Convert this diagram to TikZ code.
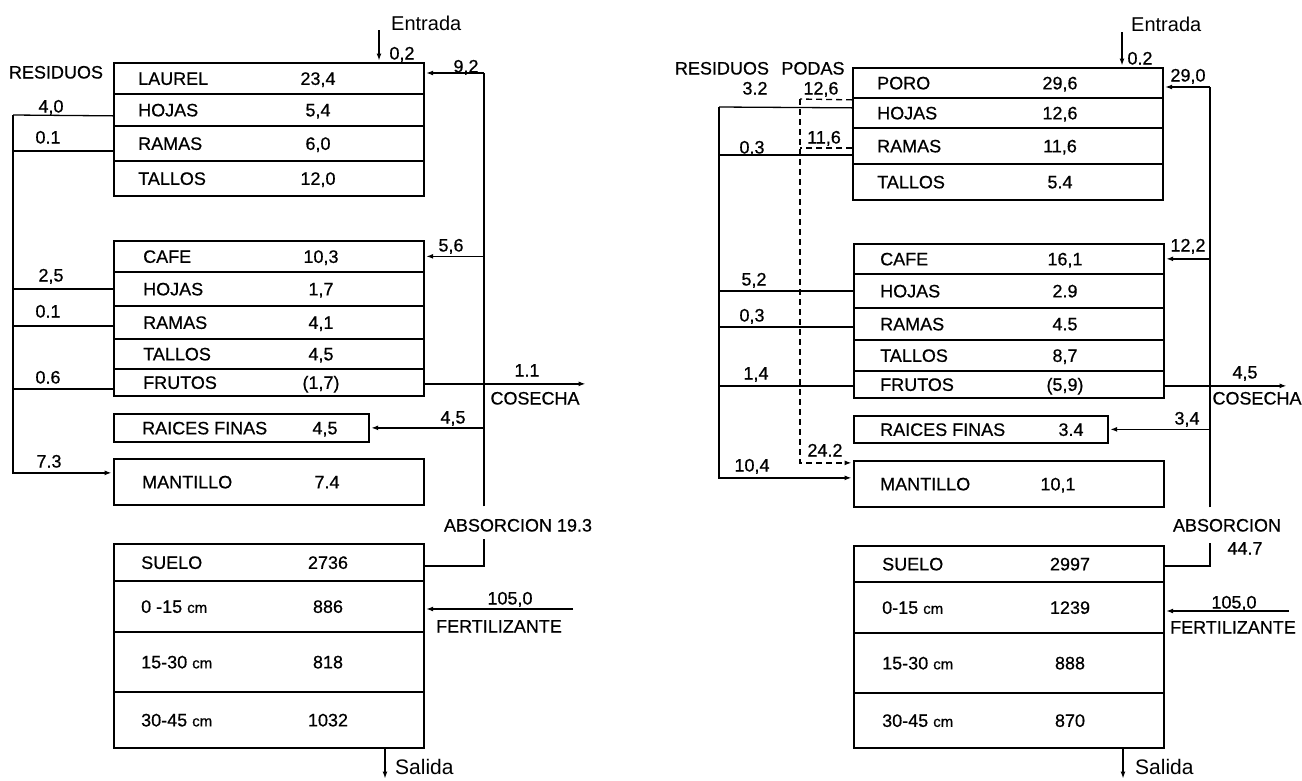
\documentclass[tikz,border=0pt]{standalone}
\usepackage{fontspec}
\setmainfont{Liberation Sans}
\newfontfamily\rotulo[FakeBold=0.6]{Liberation Sans}
\usetikzlibrary{arrows.meta}

\newcommand{\cmchico}{{\fontsize{15}{15}\selectfont cm}}

\tikzset{
  fila/.style={draw, line width=1.7pt, anchor=north west, inner sep=0pt, minimum width=310pt},
  txt/.style={inner sep=0pt, font=\rotulo\fontsize{18}{18}\selectfont, text height=13pt, text depth=0pt},
  linea/.style={line width=1.3pt},
  flecha/.style={line width=1.3pt, -{Latex[length=7pt,width=5pt]}, shorten >=1.5pt},
  podas/.style={line width=1.3pt, dash pattern=on 6pt off 4pt},
  grande/.style={inner sep=0pt, anchor=west, text depth=0pt}
}

\begin{document}
\begin{tikzpicture}[x=1pt, y=-1pt]
    \useasboundingbox (0,0) rectangle (1302,780);

    % ---------------- left panel (laurel) ----------------
    \foreach \nom/\val/\ya/\yb [count=\i] in {LAUREL/{23,4}/62/93, HOJAS/{5,4}/93/125, RAMAS/{6,0}/125/160, TALLOS/{12,0}/160/195} {
        \node[fila, minimum height=(\yb-\ya)*1pt] (lau\i) at (113,\ya) {};
        \node[txt, anchor=west] (nlau\i) at ([xshift=25pt]lau\i.west) {\nom};
        \node[txt] (vlau\i) at ([xshift=205pt]lau\i.west) {\val};
    }
    \foreach \nom/\val/\ya/\yb [count=\i] in {CAFE/{10,3}/240/271, HOJAS/{1,7}/271/305, RAMAS/{4,1}/305/338, TALLOS/{4,5}/338/368, FRUTOS/{(1,7)}/368/395} {
        \node[fila, minimum height=(\yb-\ya)*1pt] (caf\i) at (113,\ya) {};
        \node[txt, anchor=west] (ncaf\i) at ([xshift=30pt]caf\i.west) {\nom};
        \node[txt] (vcaf\i) at ([xshift=208pt]caf\i.west) {\val};
    }
    \node[fila, minimum width=255pt, minimum height=28pt] (lrai) at (113,413) {};
    \node[txt, anchor=west] (nlrai) at ([xshift=29pt]lrai.west) {RAICES FINAS};
    \node[txt] (vlrai) at ([xshift=212pt]lrai.west) {4,5};
    \node[fila, minimum height=46pt] (lman) at (113,458) {};
    \node[txt, anchor=west] (nlman) at ([xshift=29pt]lman.west) {MANTILLO};
    \node[txt] (vlman) at ([xshift=214pt]lman.west) {7.4};
    \foreach \nom/\val/\ya/\yb [count=\i] in {SUELO/2736/543/580, 0 -15 \cmchico/886/580/631, 15-30 \cmchico/818/631/691, 30-45 \cmchico/1032/691/747} {
        \node[fila, minimum height=(\yb-\ya)*1pt] (sue\i) at (113,\ya) {};
        \node[txt, anchor=west] (nsue\i) at ([xshift=28pt]sue\i.west) {\nom};
        \node[txt] (vsue\i) at ([xshift=215pt]sue\i.west) {\val};
    }

    % free ends of the left flows
    \coordinate (lres) at (13,115);
    \coordinate (labs) at (484,73);
    \coordinate (lcos) at (587,383);
    \coordinate (lfer) at (573,609);
    \coordinate (lent) at (379,30);
    \coordinate (lsal) at (385,780);

    \node[grande, font=\fontsize{20}{20}\selectfont, text height=14pt] (lentn) at (391,23) {Entrada};
    \node[grande, font=\fontsize{21}{21}\selectfont, text height=15pt] (lsaln) at (395,767) {Salida};
    \draw[flecha] (lent) -- (lent |- lau1.north);
    \draw[flecha] (sue4.south -| lsal) -- (lsal);
    \node[txt] (l02) at (402,53) {0,2};

    % residuos to mantillo
    \node[txt] (lresn) at (56,72) {RESIDUOS};
    \draw[linea] ([yshift=-6pt]lau2.west) -- (lres);
    \draw[flecha] (lres) |- ([yshift=9pt]lman.west);
    \draw[linea] ([yshift=-7.5pt]lau3.west) -- ([yshift=-7.5pt]lau3.west -| lres);
    \draw[linea] (caf2.west) -- (caf2.west -| lres);
    \draw[linea] ([yshift=-3.5pt]caf3.west) -- ([yshift=-3.5pt]caf3.west -| lres);
    \draw[linea] ([yshift=-6.5pt]caf5.west) -- ([yshift=-6.5pt]caf5.west -| lres);
    \node[txt] (l40) at (51,106) {4,0};
    \node[txt] (l01a) at (48,137) {0.1};
    \node[txt] (l25) at (51,275) {2,5};
    \node[txt] (l01b) at (48,311) {0.1};
    \node[txt] (l06) at (48,377) {0.6};
    \node[txt] (l73) at (49,461) {7.3};

    % absorcion from the soil
    \node[txt] (labsn) at (518,525) {ABSORCION 19.3};
    \draw[linea] ([yshift=-3.5pt]sue1.east) -| ([yshift=-7pt]labsn.south -| labs);
    \draw[linea] ([yshift=12pt]labsn.north -| labs) -- (labs);
    \draw[flecha] (labs) -- (labs -| lau1.east);
    \draw[flecha] (labs |- caf1.east) -- (caf1.east);
    \draw[flecha] (labs |- lrai.east) -- (lrai.east);
    \node[txt] (l92) at (466,66) {9,2};
    \node[txt] (l56) at (451,245) {5,6};
    \node[txt] (l45) at (453,417) {4,5};

    % cosecha and fertilizante
    \draw[flecha] ([yshift=-1.5pt]caf5.east) -- ([yshift=-1.5pt]caf5.east -| lcos);
    \node[txt] (l11) at (527,370) {1.1};
    \node[txt] (lcosn) at (535,398) {COSECHA};
    \draw[flecha] (lfer) -- (lfer -| sue2.east);
    \node[txt] (l105) at (510,598) {105,0};
    \node[txt] (lfern) at (499,626) {FERTILIZANTE};

    % ---------------- right panel (poro) ----------------
    \foreach \nom/\val/\ya/\yb [count=\i] in {PORO/{29,6}/67/97, HOJAS/{12,6}/97/127, RAMAS/{11,6}/127/163, TALLOS/5.4/163/199} {
        \node[fila, minimum height=(\yb-\ya)*1pt] (por\i) at (852,\ya) {};
        \node[txt, anchor=west] (npor\i) at ([xshift=25pt]por\i.west) {\nom};
        \node[txt] (vpor\i) at ([xshift=208pt]por\i.west) {\val};
    }
    \foreach \nom/\val/\ya/\yb [count=\i] in {CAFE/{16,1}/243/273, HOJAS/2.9/273/307, RAMAS/4.5/307/339, TALLOS/{8,7}/339/370, FRUTOS/{(5,9)}/370/397} {
        \node[fila, minimum height=(\yb-\ya)*1pt] (rcaf\i) at (853,\ya) {};
        \node[txt, anchor=west] (nrcaf\i) at ([xshift=27pt]rcaf\i.west) {\nom};
        \node[txt] (vrcaf\i) at ([xshift=212pt]rcaf\i.west) {\val};
    }
    \node[fila, minimum width=254pt, minimum height=27pt] (rrai) at (853,415) {};
    \node[txt, anchor=west] (nrrai) at ([xshift=27pt]rrai.west) {RAICES FINAS};
    \node[txt] (vrrai) at ([xshift=218pt]rrai.west) {3.4};
    \node[fila, minimum height=46pt] (rman) at (853,460) {};
    \node[txt, anchor=west] (nrman) at ([xshift=27pt]rman.west) {MANTILLO};
    \node[txt] (vrman) at ([xshift=205pt]rman.west) {10,1};
    \foreach \nom/\val/\ya/\yb [count=\i] in {SUELO/2997/545/581, 0-15 \cmchico/1239/581/632, 15-30 \cmchico/888/632/692, 30-45 \cmchico/870/692/747} {
        \node[fila, minimum height=(\yb-\ya)*1pt] (rsue\i) at (853,\ya) {};
        \node[txt, anchor=west] (nrsue\i) at ([xshift=29pt]rsue\i.west) {\nom};
        \node[txt] (vrsue\i) at ([xshift=217pt]rsue\i.west) {\val};
    }

    % free ends of the right flows
    \coordinate (rres) at (719,107);
    \coordinate (rpod) at (800,99);
    \coordinate (rabs) at (1210,87);
    \coordinate (rcos) at (1288,384);
    \coordinate (rfer) at (1289,611);
    \coordinate (rent) at (1122,32);
    \coordinate (rsal) at (1123,780);

    \node[grande, font=\fontsize{20}{20}\selectfont, text height=14pt] (rentn) at (1131,24) {Entrada};
    \node[grande, font=\fontsize{21}{21}\selectfont, text height=15pt] (rsaln) at (1135,767) {Salida};
    \draw[flecha] (rent) -- (rent |- por1.north);
    \draw[flecha] (rsue4.south -| rsal) -- (rsal);
    \node[txt] (r02) at (1140,58) {0.2};

    % residuos (solid) and podas (dashed) to mantillo
    \node[txt] (rresn) at (722,68) {RESIDUOS};
    \node[txt] (rpodn) at (813,68) {PODAS};
    \draw[linea] ([yshift=5pt]por2.west) -- (rres);
    \draw[flecha] (rres) |- ([yshift=6pt]rman.west);
    \draw[linea] ([yshift=-9pt]por3.west) -- ([yshift=-9pt]por3.west -| rres);
    \draw[linea] (rcaf2.west) -- (rcaf2.west -| rres);
    \draw[linea] ([yshift=-3pt]rcaf3.west) -- ([yshift=-3pt]rcaf3.west -| rres);
    \draw[linea] ([yshift=-1.5pt]rcaf5.west) -- ([yshift=-1.5pt]rcaf5.west -| rres);
    \draw[podas] ([yshift=13pt]por2.west) -- (rpod);
    \draw[podas] ([yshift=-2pt]por3.west) -- ([yshift=-2pt]por3.west -| rpod);
    \draw[podas, flecha] (rpod) |- ([yshift=21pt]rman.west);
    \node[txt] (r32) at (755,88) {3.2};
    \node[txt] (r126) at (821,88) {12,6};
    \node[txt] (r03a) at (752,147) {0.3};
    \node[txt] (r116) at (824,137) {11,6};
    \node[txt] (r52) at (754,279) {5,2};
    \node[txt] (r03b) at (752,315) {0,3};
    \node[txt] (r14) at (756,373) {1,4};
    \node[txt] (r242) at (825,450) {24.2};
    \node[txt] (r104) at (752,465) {10,4};

    % absorcion from the soil
    \node[txt] (rabsn) at (1227,525) {ABSORCION};
    \node[txt] (rabsv) at (1245,548) {44.7};
    \draw[linea] ([yshift=-2pt]rsue1.east) -| ([yshift=-11pt]rabsn.south -| rabs);
    \draw[linea] ([yshift=11pt]rabsn.north -| rabs) -- (rabs);
    \draw[flecha] (rabs) -- (rabs -| por1.east);
    \draw[flecha] (rabs |- rcaf1.east) -- (rcaf1.east);
    \draw[flecha] (rabs |- rrai.east) -- (rrai.east);
    \node[txt] (r290) at (1188,75) {29,0};
    \node[txt] (r122) at (1188,245) {12,2};
    \node[txt] (r34) at (1187,418) {3,4};

    % cosecha and fertilizante
    \draw[flecha] ([yshift=-1.5pt]rcaf5.east) -- ([yshift=-1.5pt]rcaf5.east -| rcos);
    \node[txt] (r45) at (1245,372) {4,5};
    \node[txt] (rcosn) at (1257,398) {COSECHA};
    \draw[flecha] (rfer) -- (rfer -| rsue2.east);
    \node[txt] (r105) at (1234,602) {105,0};
    \node[txt] (rfern) at (1233,627) {FERTILIZANTE};
\end{tikzpicture}
\end{document}
